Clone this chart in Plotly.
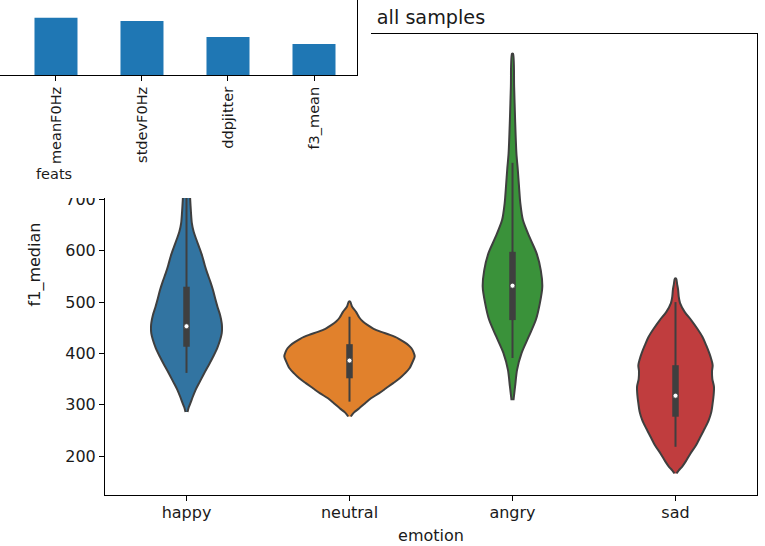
import plotly.graph_objects as go

# ---- data -----------------------------------------------------------------
emotions = ["happy", "neutral", "angry", "sad"]
violin_colors = ["#3274a1", "#e1812c", "#3a923a", "#c03d3e"]
outline_gray = "#3f3f3f"

# Kernel density profile of f1_median per emotion
# (density scaled so the widest violin peaks at 1.0)
happy_levels = [286, 295, 303, 315, 329, 345, 361, 377, 394, 410, 426, 439, 450, 459,
                475, 491, 507, 524, 540, 556, 572, 589, 605, 621, 637, 654, 676, 699,
                730, 760, 790, 810]
happy_density = [0.015, 0.035, 0.06, 0.095, 0.14, 0.205, 0.27, 0.34, 0.41, 0.47, 0.515,
                 0.54, 0.545, 0.54, 0.515, 0.475, 0.44, 0.405, 0.365, 0.32, 0.28, 0.243,
                 0.20, 0.154, 0.11, 0.082, 0.068, 0.057, 0.045, 0.035, 0.02, 0.008]

neutral_levels = [277, 285, 293, 303, 312.5, 322, 332, 342, 351.5, 361, 371, 384, 394,
                  403, 410, 416, 422, 429, 436, 442, 448, 455, 462, 470, 481, 491, 501]
neutral_density = [0.02, 0.07, 0.15, 0.24, 0.33, 0.45, 0.56, 0.67, 0.77, 0.85, 0.92,
                   0.97, 1.0, 0.98, 0.95, 0.905, 0.84, 0.75, 0.62, 0.485, 0.37, 0.28,
                   0.205, 0.15, 0.10, 0.04, 0.01]

angry_levels = [309, 336, 368, 401, 433, 466, 498, 530, 562, 595, 627, 660, 693, 725,
                760, 790, 855, 920, 984]
angry_density = [0.015, 0.04, 0.07, 0.14, 0.25, 0.36, 0.42, 0.457, 0.434, 0.37, 0.26,
                 0.16, 0.12, 0.10, 0.08, 0.06, 0.04, 0.025, 0.008]

sad_levels = [166, 172, 179, 190, 205, 220, 238, 254, 270, 286, 303, 319, 335, 350, 365,
              377, 388, 400, 416, 433, 449, 465, 481, 498, 510, 524, 535, 546]
sad_density = [0.015, 0.05, 0.10, 0.16, 0.23, 0.31, 0.385, 0.45, 0.51, 0.55, 0.57, 0.585,
               0.59, 0.565, 0.56, 0.57, 0.55, 0.52, 0.47, 0.41, 0.33, 0.24, 0.14, 0.07,
               0.05, 0.04, 0.025, 0.01]

# Box statistics: lower whisker, Q1, median, Q3, upper whisker
happy_box = [362, 413, 453, 530, 760]
neutral_box = [306, 351.5, 386, 418, 471.5]
angry_box = [391, 465, 532, 598, 771.5]
sad_box = [218, 276.6, 317.5, 377, 500]

# Feature importances (inset bar chart)
feats = ["meanF0Hz", "stdevF0Hz", "ddpjitter", "f3_mean"]
importances = [0.185, 0.174, 0.123, 0.100]

# ---- figure ---------------------------------------------------------------
W, H = 765, 546
FONT = "DejaVu Sans"
TXT = "#1a1a1a"
HALF_WIDTH = 0.4  # half of the violin width (0.8) in category units

fig = go.Figure()

profiles = [
    (happy_levels, happy_density, happy_box),
    (neutral_levels, neutral_density, neutral_box),
    (angry_levels, angry_density, angry_box),
    (sad_levels, sad_density, sad_box),
]

for i, (color, (levels, dens, box)) in enumerate(zip(violin_colors, profiles)):
    xs = [i - HALF_WIDTH * d for d in dens] + [i + HALF_WIDTH * d for d in reversed(dens)]
    ys = list(levels) + list(reversed(levels))
    fig.add_trace(go.Scatter(
        x=xs, y=ys, mode="lines", fill="toself", fillcolor=color,
        line=dict(color=outline_gray, width=2, shape="spline", smoothing=0.8),
        hoverinfo="skip", showlegend=False, xaxis="x", yaxis="y"))
    # whisker
    fig.add_trace(go.Scatter(
        x=[i, i], y=[box[0], box[4]], mode="lines",
        line=dict(color=outline_gray, width=2), hoverinfo="skip",
        showlegend=False, xaxis="x", yaxis="y"))
    # interquartile box
    fig.add_trace(go.Scatter(
        x=[i, i], y=[box[1], box[3]], mode="lines",
        line=dict(color=outline_gray, width=6.5), hoverinfo="skip",
        showlegend=False, xaxis="x", yaxis="y"))
    # median
    fig.add_trace(go.Scatter(
        x=[i], y=[box[2]], mode="markers",
        marker=dict(color="white", size=5, line=dict(color=outline_gray, width=0.8)),
        hoverinfo="skip", showlegend=False, xaxis="x", yaxis="y"))

# inset bar chart of feature importances
fig.add_trace(go.Bar(
    x=list(range(len(feats))), y=importances, width=0.5,
    marker=dict(color="#1f77b4", line=dict(width=0)),
    showlegend=False, xaxis="x3", yaxis="y3"))


def px_x(p):
    return p / W


def px_y(p):
    return 1 - p / H


axis_font = dict(family=FONT, size=16, color=TXT)
inset_font = dict(family=FONT, size=14.5, color=TXT)

fig.update_layout(
    width=W, height=H,
    margin=dict(l=0, r=0, t=0, b=0),
    paper_bgcolor="white", plot_bgcolor="white",
    font=dict(family=FONT, color=TXT),
    title=dict(text="all samples", x=431 / W, xanchor="center",
               y=px_y(17), yanchor="middle",
               font=dict(family=FONT, size=19.2, color=TXT)),
    xaxis=dict(
        domain=[px_x(105), px_x(757)], anchor="y",
        range=[-0.5, 3.5], tickmode="array",
        tickvals=list(range(len(emotions))), ticktext=emotions,
        ticks="outside", ticklen=5, tickwidth=1.1, tickcolor="black",
        showline=True, mirror=True, linecolor="black", linewidth=1.1,
        showgrid=False, zeroline=False, tickfont=axis_font,
        ticklabelstandoff=-2,
        title=dict(text="emotion", font=axis_font, standoff=8),
    ),
    yaxis=dict(
        domain=[px_y(495), px_y(34)], anchor="x",
        range=[124, 1022.6], tick0=0, dtick=100,
        ticks="outside", ticklen=5, tickwidth=1.1, tickcolor="black",
        showline=True, mirror=True, linecolor="black", linewidth=1.1,
        showgrid=False, zeroline=False, tickfont=axis_font,
        title=dict(text="f1_median", font=axis_font, standoff=10),
    ),
    # masking panel behind the inset
    xaxis2=dict(domain=[0, px_x(371)], anchor="y2", range=[0, 1], visible=False),
    yaxis2=dict(domain=[px_y(198), 1], anchor="x2", range=[0, 1], visible=False),
    # inset axes
    xaxis3=dict(
        domain=[0, px_x(357)], anchor="y3",
        range=[-0.651, 3.5], tickmode="array",
        tickvals=list(range(len(feats))), ticktext=feats, tickangle=-90,
        ticks="outside", ticklen=5, tickwidth=1.1, tickcolor="black",
        showline=True, linecolor="black", linewidth=1.1,
        showgrid=False, zeroline=False, tickfont=inset_font,
    ),
    yaxis3=dict(
        domain=[px_y(75), 1], anchor="x3", side="right",
        range=[0, 0.2421], showticklabels=False, ticks="",
        showline=True, linecolor="black", linewidth=1.1,
        showgrid=False, zeroline=False,
    ),
    shapes=[dict(type="rect", xref="x2", yref="y2", x0=-1, x1=2, y0=-1, y1=2,
                 fillcolor="white", line=dict(width=0), layer="below")],
    annotations=[dict(text="feats", xref="paper", yref="paper",
                      x=px_x(54), y=px_y(174), xanchor="center", yanchor="middle",
                      showarrow=False, font=inset_font)],
)

fig.write_html("out.html")
